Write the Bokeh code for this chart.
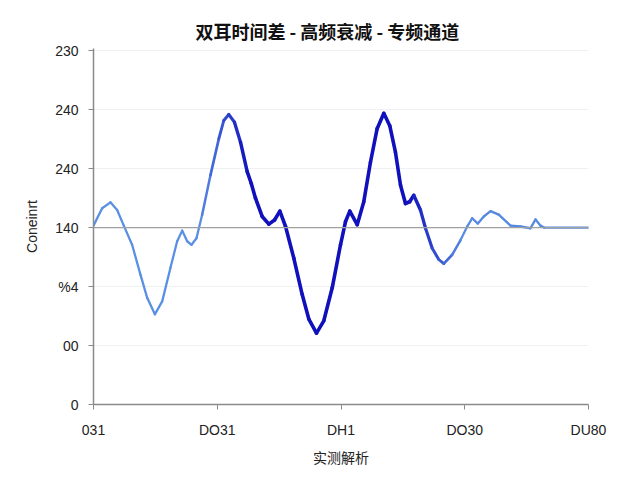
import numpy as np
from bokeh.plotting import figure
from bokeh.models import Range1d, Span, FixedTicker
from bokeh.embed import file_html
from bokeh.resources import INLINE

# ---- data ----
title_text = "双耳时间差 - 高频衰减 - 专频通道"
x_label = "实测解析"
y_label = "Coneinrt"
x_tick_labels = ["031", "DO31", "DH1", "DO30", "DU80"]
y_tick_labels = ["0", "00", "%4", "140", "240", "240", "230"]
baseline = 3.0

xs = [0.0, 0.070, 0.137, 0.191, 0.245, 0.312, 0.380, 0.434, 0.496, 0.555, 0.622, 0.676,
      0.717, 0.757, 0.792, 0.832, 0.878, 0.945, 1.013, 1.053, 1.093, 1.139, 1.188, 1.242,
      1.275, 1.309, 1.363, 1.417, 1.463, 1.506, 1.552, 1.619, 1.686, 1.740, 1.802, 1.861,
      1.929, 1.996, 2.036, 2.071, 2.131, 2.184, 2.238, 2.292, 2.346, 2.394, 2.440, 2.481,
      2.521, 2.555, 2.588, 2.642, 2.683, 2.737, 2.790, 2.831, 2.898, 2.966, 3.020, 3.060,
      3.106, 3.154, 3.208, 3.275, 3.370, 3.451, 3.531, 3.572, 3.612, 3.644, 4.0]
ys = [3.035, 3.33, 3.43, 3.30, 3.035, 2.71, 2.20, 1.81, 1.53, 1.75, 2.32, 2.77,
      2.95, 2.77, 2.71, 2.82, 3.22, 3.89, 4.51, 4.82, 4.92, 4.79, 4.45, 3.95,
      3.75, 3.50, 3.19, 3.06, 3.13, 3.28, 3.02, 2.48, 1.87, 1.45, 1.21, 1.42,
      1.98, 2.71, 3.10, 3.28, 3.05, 3.44, 4.11, 4.68, 4.94, 4.73, 4.28, 3.72,
      3.41, 3.44, 3.55, 3.30, 2.99, 2.65, 2.46, 2.39, 2.54, 2.79, 3.02, 3.16,
      3.07, 3.19, 3.28, 3.22, 3.035, 3.02, 2.99, 3.14, 3.035, 3.00, 3.00]

# ---- styling of the gradient line (style only) ----
light = np.array([0x5a, 0x90, 0xe4])
dark = np.array([0x10, 0x10, 0xbc])

def mix(t):
    c = light + (dark - light) * t
    return "#%02x%02x%02x" % tuple(int(round(v)) for v in c)

def darkness(xm):
    if xm < 0.85:
        return 0.0
    if xm < 1.25:
        return (xm - 0.85) / 0.4
    if xm < 2.55:
        return 1.0
    if xm < 3.0:
        return 1.0 - (xm - 2.55) / 0.45
    return 0.05

x0 = xs[:-1]; x1 = xs[1:]; y0 = ys[:-1]; y1 = ys[1:]
tvals = [darkness((a + b) / 2) for a, b in zip(x0, x1)]
colors = [mix(t) for t in tvals]
widths = [2.3 + 1.3 * t for t in tvals]

p = figure(width=632, height=472, output_backend="svg", toolbar_location=None,
           x_range=Range1d(0, 4), y_range=Range1d(0, 6.04),
           min_border_left=93, min_border_right=44, min_border_top=48, min_border_bottom=68)
p.outline_line_color = None
p.background_fill_color = "white"

p.title.text = title_text
p.title.align = "left"
p.title.offset = 102
p.title.text_font = "Noto Sans CJK SC"
p.title.text_font_size = "18px"
p.title.text_font_style = "bold"
p.title.text_color = "#111111"

p.add_layout(Span(location=baseline, dimension="width", line_color="#a0a0a0", line_width=1.2))

p.segment(x0=x0, y0=y0, x1=x1, y1=y1, line_color=colors, line_width=widths, line_cap="round")

p.xaxis.ticker = FixedTicker(ticks=list(range(len(x_tick_labels))))
p.xaxis.major_label_overrides = {i: s for i, s in enumerate(x_tick_labels)}
p.yaxis.ticker = FixedTicker(ticks=list(range(len(y_tick_labels))))
p.yaxis.major_label_overrides = {i: s for i, s in enumerate(y_tick_labels)}

for ax in (p.xaxis[0], p.yaxis[0]):
    ax.axis_line_color = "#8a8a8a"
    ax.axis_line_width = 1.5
    ax.major_tick_line_color = "#8a8a8a"
    ax.major_tick_in = 0
    ax.major_tick_out = 5
    ax.minor_tick_line_color = None
    ax.major_label_text_font = "Liberation Sans"
    ax.major_label_text_font_size = "14px"
    ax.major_label_text_color = "#222222"
    ax.axis_label_text_font = "Noto Sans CJK SC"
    ax.axis_label_text_font_style = "normal"
    ax.axis_label_text_font_size = "14px"
    ax.axis_label_text_color = "#222222"

p.xaxis.axis_label = x_label
p.xaxis.major_label_standoff = 12
p.xaxis.axis_label_standoff = 6
p.yaxis.axis_label = y_label
p.yaxis.axis_label_text_font = "Liberation Sans"
p.yaxis.axis_label_text_font_size = "14px"
p.yaxis.major_label_standoff = 10
p.yaxis.axis_label_standoff = 12

p.xgrid.grid_line_color = None
p.ygrid.grid_line_color = "#eef0f4"

open("out.html", "w").write(file_html(p, INLINE))
